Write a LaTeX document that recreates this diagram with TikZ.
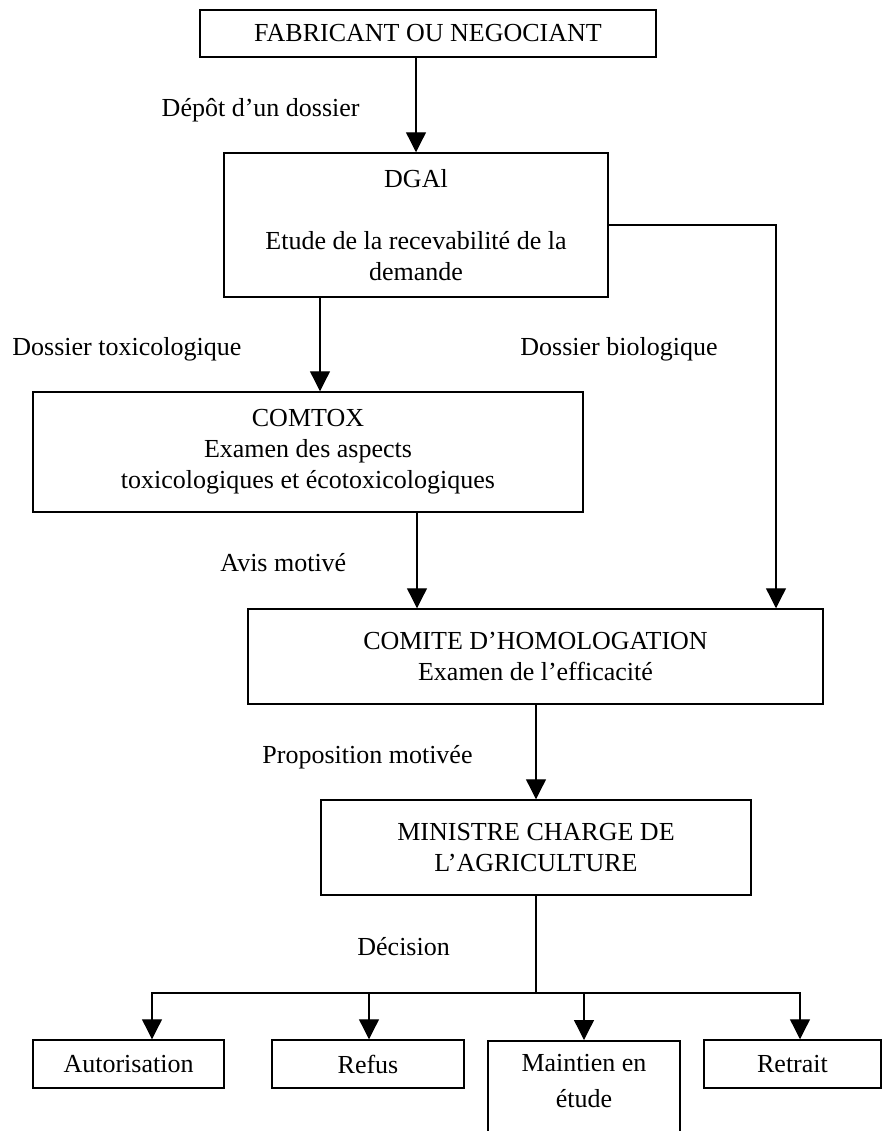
\documentclass[tikz,border=0pt]{standalone}
\usepackage{fontspec}
\setmainfont{Liberation Serif}
\usetikzlibrary{arrows.meta}

\begin{document}
\begin{tikzpicture}[x=0.5pt,y=-0.5pt,
	boite/.style={draw,line width=0.75pt,align=center,inner sep=0pt,font=\fontsize{13}{15.5}\selectfont},
	feuille/.style={boite,minimum height=24pt},
	legende/.style={inner sep=0pt,text height=8.6pt,text depth=0pt,font=\fontsize{13}{15.5}\selectfont},
	fleche/.style={-{Triangle[width=10pt,length=10pt]},line width=0.65pt},
	trait/.style={line width=0.65pt,line cap=rect}]
	\useasboundingbox (0,0) rectangle (883,1131);
	\clip (0,0) rectangle (883,1131);
	% boites
	\node[boite,minimum width=228pt,minimum height=23.5pt] (fab) at (428,33.5) {FABRICANT OU NEGOCIANT};
	\node[boite,minimum width=192pt,minimum height=72pt] (dgal) at (416,225) {DGAl\\[15.5pt]Etude de la recevabilité de la\\demande};
	\node[boite,minimum width=275pt,minimum height=60pt] (comtox) at (308,452) {COMTOX\\Examen des aspects\\toxicologiques et écotoxicologiques};
	\node[boite,minimum width=287.5pt,minimum height=47.5pt] (comite) at (535.5,656.5) {COMITE D’HOMOLOGATION\\Examen de l’efficacité};
	\node[boite,minimum width=215pt,minimum height=47.5pt] (ministre) at (536,847.5) {MINISTRE CHARGE DE\\L’AGRICULTURE};
	% decisions
	\node[feuille,minimum width=95.5pt] (autor) at (128.5,1064) {Autorisation};
	\node[feuille,minimum width=96pt] (refus) at (368,1064) {Refus};
	\node[boite,minimum width=96pt,anchor=north,inner ysep=6.6pt,text depth=15pt] (maintien) at (584,1040) {Maintien en\\[2.5pt]étude};
	\node[feuille,minimum width=88.5pt] (retrait) at (792.5,1064) {Retrait};

	% textes des fleches
	\node[legende,anchor=east] (depot) at (360,108) {Dépôt d’un dossier};
	\node[legende,anchor=west] (doxtox) at (12,347) {Dossier toxicologique};
	\node[legende,anchor=west] (dosbio) at (520,347) {Dossier biologique};
	\node[legende,anchor=west] (avis) at (220,563) {Avis motivé};
	\node[legende,anchor=west] (prop) at (262,755) {Proposition motivée};
	\node[legende,anchor=west] (decision) at (357,947) {Décision};

	\coordinate (tox) at (320,0);
	\coordinate (bio) at (776,0);
	\coordinate (avisx) at (417,0);
	\coordinate (split) at (536,993);

	\draw[fleche] (dgal.north |- fab.south) -- (dgal.north);
	\draw[fleche] (dgal.south -| tox) -- (comtox.north -| tox);
	\draw[fleche] (dgal.east) -| (comite.north -| bio);
	\draw[fleche] (comtox.south -| avisx) -- (comite.north -| avisx);
	\draw[fleche] (ministre.north |- comite.south) -- (ministre.north);
	% decision
	\draw[trait] (ministre.south) -- (split);
	\foreach \n/\x in {autor/152,refus/369,maintien/584,retrait/800}{
		\coordinate (c\n) at (\x,993);
		\draw[fleche] (c\n) -- (c\n |- \n.north);
	}
	\draw[trait] (cautor) -- (cretrait);
\end{tikzpicture}
\end{document}
